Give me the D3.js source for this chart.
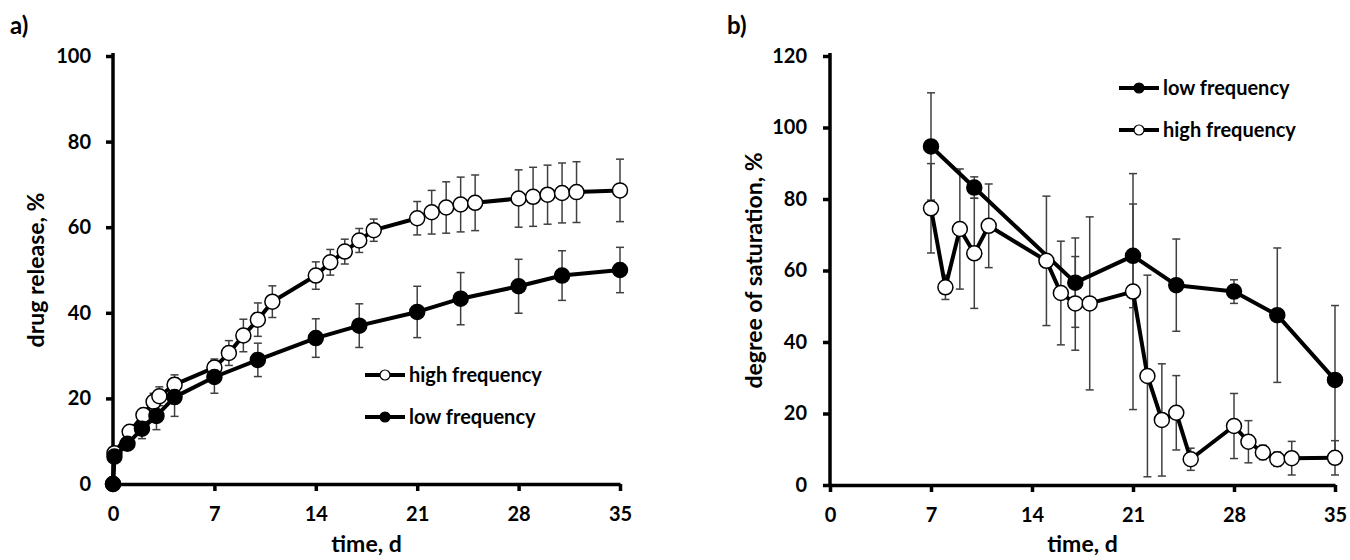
<!DOCTYPE html>
<html>
<head>
<meta charset="utf-8">
<script src="https://cdn.jsdelivr.net/npm/d3@7"></script>
<style>
  body { margin: 0; background: #fff; }
  svg { display: block; font-family: "Lato", "Open Sans", sans-serif; font-weight: 700; }
</style>
</head>
<body>
<svg id="chart" width="1350" height="560"></svg>
<script>
/* ---------- data: panel a (drug release) ---------- */
const aHighDays = [0, 0.1, 1.15, 2.1, 2.8, 3.2, 4.25, 7, 8, 9, 10, 11, 14, 15, 16, 17, 18, 21, 22, 23, 24, 25, 28, 29, 30, 31, 32, 35];
const aHighVals = [0, 7.2, 12.2, 16.1, 19.2, 20.5, 23.2, 27.2, 30.6, 34.7, 38.4, 42.6, 48.7, 51.8, 54.3, 56.9, 59.3, 62.1, 63.5, 64.6, 65.3, 65.7, 66.7, 67.1, 67.6, 68.0, 68.2, 68.6];
const aHighErr  = [0, 0.5, 1, 1.5, 2, 2.2, 2.3, 2, 2.9, 3.8, 3.9, 3.7, 3.2, 3.0, 2.9, 2.8, 2.6, 3.9, 5.1, 6.0, 6.4, 6.5, 6.7, 6.9, 6.9, 7.0, 7.1, 7.3];

const aLowDays = [0, 0.1, 1, 2, 3, 4.25, 7, 10, 14, 17, 21, 24, 28, 31, 35];
const aLowVals = [0, 6.4, 9.4, 12.9, 15.9, 20.3, 25.0, 29.0, 34.1, 37.0, 40.2, 43.3, 46.2, 48.7, 50.0];
const aLowErr  = [0, 0.5, 1, 2.3, 3.2, 4.5, 3.8, 3.9, 4.5, 5.1, 6.0, 6.1, 6.3, 5.8, 5.3];

/* ---------- data: panel b (degree of saturation) ---------- */
const bLowDays = [7, 10, 17, 21, 24, 28, 31, 35];
const bLowVals = [94.7, 83.2, 56.6, 64.1, 55.9, 54.1, 47.5, 29.4];
const bLowErr  = [15, 3, 12.5, 14.5, 12.9, 3.3, 18.8, 20.8];

const bHighDays = [7, 8, 9, 10, 11, 15, 16, 17, 18, 21, 22, 23, 24, 25, 28, 29, 30, 31, 32, 35];
const bHighVals = [77.4, 55.3, 71.6, 64.8, 72.5, 62.7, 53.7, 50.8, 50.8, 54.1, 30.5, 18.2, 20.2, 7.2, 16.5, 12.1, 9.1, 7.2, 7.5, 7.6];
const bHighErr  = [12.5, 3.4, 16.8, 15.4, 11.7, 18.1, 14.5, 13.1, 24.2, 33, 28.2, 15.7, 10.4, 3.1, 9.1, 5.9, 2, 2, 4.7, 4.8];

const xTicks = [0, 7, 14, 21, 28, 35];
const aYTicks = [0, 20, 40, 60, 80, 100];
const bYTicks = [0, 20, 40, 60, 80, 100, 120];

const svg = d3.select("#chart");

function zip(days, vals, errs) {
    return days.map((d, i) => ({ d: d, v: vals[i], e: errs[i] }));
}

/* ------------------------------
   ONE PANEL
------------------------------ */
function drawPanel(cfg) {
    const x = d3.scaleLinear().domain([0, 35]).range([cfg.left, cfg.right]);
    const y = d3.scaleLinear().domain([0, cfg.yMax]).range([cfg.bottom, cfg.top]);

    const g = svg.append("g");

    // axes
    const yAxis = g.append("g")
        .attr("transform", `translate(${cfg.left},0)`)
        .call(d3.axisLeft(y).tickValues(cfg.yTicks).tickSize(7).tickSizeOuter(0).tickPadding(cfg.yPad));
    const xAxis = g.append("g")
        .attr("transform", `translate(0,${cfg.bottom})`)
        .call(d3.axisBottom(x).tickValues(xTicks).tickSize(7).tickSizeOuter(0).tickPadding(16));

    [yAxis, xAxis].forEach(ax => {
        ax.select(".domain").attr("stroke", "#000").attr("stroke-width", 3.5);
        ax.selectAll(".tick line").attr("stroke", "#000").attr("stroke-width", 3.5);
        ax.selectAll(".tick text")
            .attr("fill", "#000")
            .style("font-family", "Lato, sans-serif")
            .style("font-weight", 700)
            .style("font-size", "20px");
    });
    // y-axis line reaches a little above the top tick
    yAxis.select(".domain").attr("d", `M0,${cfg.top - 3}V${cfg.bottom}`);

    // titles
    g.append("text")
        .attr("x", (cfg.left + cfg.right) / 2)
        .attr("y", 552)
        .attr("text-anchor", "middle")
        .style("font-size", "23px")
        .text("time, d");
    g.append("text")
        .attr("transform", `translate(${cfg.yTitleX},${(cfg.top + cfg.bottom) / 2}) rotate(-90)`)
        .attr("text-anchor", "middle")
        .attr("dy", "0.35em")
        .style("font-size", "23px")
        .text(cfg.yTitle);
    g.append("text")
        .attr("x", cfg.labelX)
        .attr("y", 34)
        .style("font-size", "24px")
        .text(cfg.label);

    // error bars
    cfg.series.forEach(s => {
        const bars = g.append("g")
            .attr("stroke", "#404040")
            .attr("stroke-width", 1.5)
            .selectAll("g")
            .data(s.data.filter(p => p.e > 0))
            .enter()
            .append("g");
        bars.append("line")
            .attr("x1", p => x(p.d)).attr("x2", p => x(p.d))
            .attr("y1", p => y(p.v - p.e)).attr("y2", p => y(p.v + p.e));
        bars.append("line")
            .attr("x1", p => x(p.d) - 4).attr("x2", p => x(p.d) + 4)
            .attr("y1", p => y(p.v + p.e)).attr("y2", p => y(p.v + p.e));
        bars.append("line")
            .attr("x1", p => x(p.d) - 4).attr("x2", p => x(p.d) + 4)
            .attr("y1", p => y(p.v - p.e)).attr("y2", p => y(p.v - p.e));
    });

    // lines and markers
    const line = d3.line().x(p => x(p.d)).y(p => y(p.v));
    cfg.series.forEach(s => {
        g.append("path")
            .datum(s.data)
            .attr("d", line)
            .attr("fill", "none")
            .attr("stroke", "#000")
            .attr("stroke-width", 4)
            .attr("stroke-linejoin", "round");
        g.selectAll(null)
            .data(s.data)
            .enter()
            .append("circle")
            .attr("cx", p => x(p.d))
            .attr("cy", p => y(p.v))
            .attr("r", 7.5)
            .attr("fill", s.fill)
            .attr("stroke", "#000")
            .attr("stroke-width", 1.5);
    });

    // legend
    cfg.legend.forEach((item, i) => {
        const ly = cfg.legendY + i * cfg.legendGap;
        const lx = cfg.legendX;
        g.append("line")
            .attr("x1", lx).attr("x2", lx + 40)
            .attr("y1", ly).attr("y2", ly)
            .attr("stroke", "#000").attr("stroke-width", 4);
        g.append("circle")
            .attr("cx", lx + 20).attr("cy", ly).attr("r", 5)
            .attr("fill", item.fill).attr("stroke", "#000").attr("stroke-width", 1.2);
        g.append("text")
            .attr("x", lx + 44)
            .attr("y", ly)
            .attr("dy", "0.35em")
            .style("font-size", "20px")
            .text(item.name);
    });
}

const aHigh = { name: "high frequency", fill: "#fff", data: zip(aHighDays, aHighVals, aHighErr) };
const aLow  = { name: "low frequency",  fill: "#000", data: zip(aLowDays, aLowVals, aLowErr) };
const bLow  = { name: "low frequency",  fill: "#000", data: zip(bLowDays, bLowVals, bLowErr) };
const bHigh = { name: "high frequency", fill: "#fff", data: zip(bHighDays, bHighVals, bHighErr) };

drawPanel({
    left: 113, right: 620, top: 56, bottom: 484, yMax: 100, yTicks: aYTicks, yPad: 15,
    yTitle: "drug release, %", yTitleX: 36, label: "a)", labelX: 10,
    series: [aHigh, aLow],
    legend: [aHigh, aLow], legendX: 365, legendY: 375, legendGap: 42
});

drawPanel({
    left: 830, right: 1335, top: 56, bottom: 485, yMax: 120, yTicks: bYTicks, yPad: 16,
    yTitle: "degree of saturation, %", yTitleX: 754, label: "b)", labelX: 727,
    series: [bLow, bHigh],
    legend: [bLow, bHigh], legendX: 1119, legendY: 88, legendGap: 42
});
</script>
</body>
</html>
